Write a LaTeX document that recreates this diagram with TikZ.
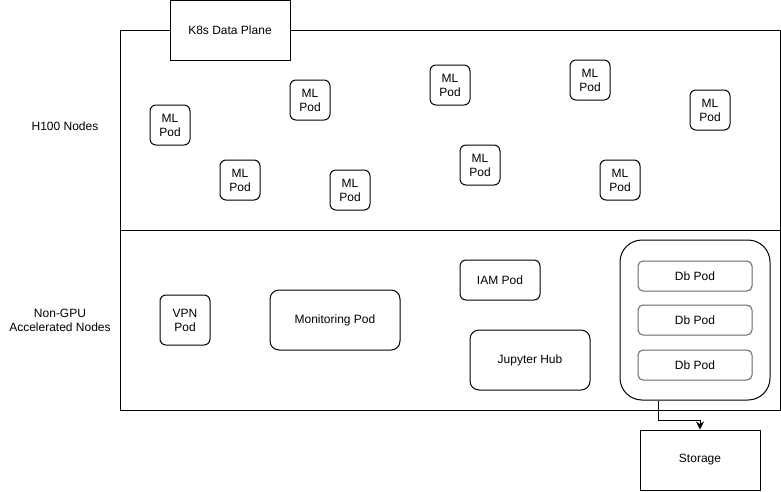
\documentclass[tikz,border=0pt]{standalone}
\usepackage{fontspec}
\setmainfont{Liberation Sans}
\usepackage{tikz}
\usetikzlibrary{arrows.meta,positioning}
\definecolor{podline}{HTML}{666666}

\tikzset{
  lane/.style={draw,line width=1pt,minimum width=660pt,inner sep=0pt},
  pod/.style={draw,line width=1pt,rounded corners=6pt,minimum width=40pt,minimum height=40pt,inner sep=0pt,align=center},
  bigpod/.style={draw,line width=1pt,rounded corners=9pt,inner sep=0pt,align=center},
  dbpod/.style={draw=podline,line width=1pt,rounded corners=5pt,minimum width=114pt,minimum height=30pt,inner sep=0pt},
}

\begin{document}
\begin{tikzpicture}[x=1pt,y=-1pt,font=\fontsize{12}{14}\selectfont]
        \useasboundingbox (0,0) rectangle (781,491);

        \path
        (450,130) node[lane,minimum height=200pt](h100) {}
        (450,320) node[lane,minimum height=180pt](nongpu) {}
        (230,30) node[draw,fill=white,line width=1pt,minimum width=120pt,minimum height=60pt,inner sep=0pt](plane) {K8s Data Plane}
        (65,126) node(h100lbl) {H100 Nodes}
        (60,320) node[align=center](nongpulbl) {Non-GPU\\Accelerated Nodes}
        ;

        % ML pods
        \path
        (170,125) node[pod](ml1) {ML\\Pod}
        (240,180) node[pod](ml2) {ML\\Pod}
        (310,100) node[pod](ml3) {ML\\Pod}
        (350,190) node[pod](ml4) {ML\\Pod}
        (450,85) node[pod](ml5) {ML\\Pod}
        (480,165) node[pod](ml6) {ML\\Pod}
        (590,80) node[pod](ml7) {ML\\Pod}
        (620,180) node[pod](ml8) {ML\\Pod}
        (710,110) node[pod](ml9) {ML\\Pod}
        ;

        % non-GPU pods
        \path
        (185,320) node[pod,minimum width=50pt,minimum height=50pt](vpn) {VPN\\Pod}
        (335,320) node[bigpod,minimum width=130pt,minimum height=60pt](monitor) {Monitoring Pod}
        (500,280) node[pod,minimum width=80pt](iam) {IAM Pod}
        (530,360) node[bigpod,minimum width=120pt,minimum height=60pt](jupyter) {Jupyter Hub}
        (695,320) node[draw,line width=1pt,rounded corners=22pt,minimum width=150pt,minimum height=160pt](dbgroup) {}
        (695,276) node[dbpod](db1) {Db Pod}
        (695,320) node[dbpod](db2) {Db Pod}
        (695,365) node[dbpod](db3) {Db Pod}
        (700,460) node[draw,line width=1pt,minimum width=120pt,minimum height=60pt,inner sep=0pt](storage) {Storage}
        ;

        \draw[line width=1pt,-{Stealth[length=8pt,width=8pt]}] ([xshift=-37pt]dbgroup.south) |- ([yshift=9pt]storage.north) -- (storage.north);
      \end{tikzpicture}
\end{document}
